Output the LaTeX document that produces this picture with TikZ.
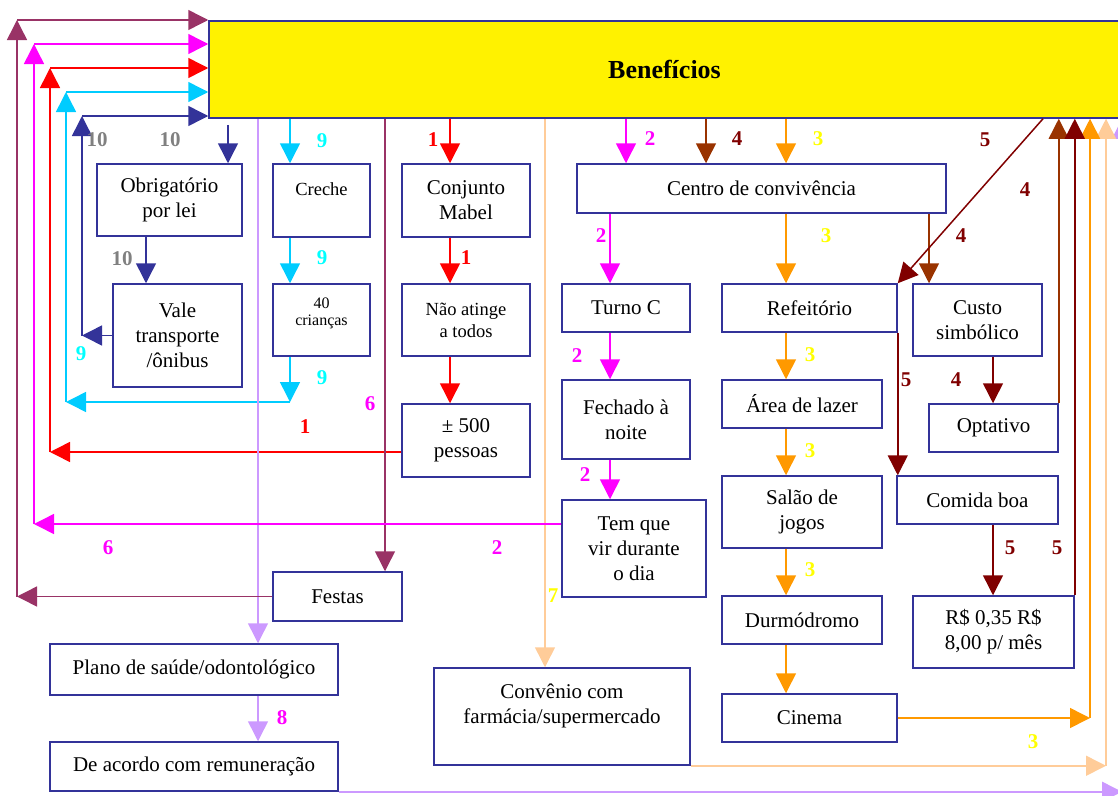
\documentclass[tikz,border=0pt]{standalone}
\usepackage{fontspec}
\setmainfont{Liberation Serif}
\usetikzlibrary{arrows.meta,calc}

\definecolor{boxblue}{HTML}{333399}
\definecolor{ln10}{HTML}{333399}
\definecolor{ln9}{HTML}{00CCFF}
\definecolor{ln1}{HTML}{FF0000}
\definecolor{ln2}{HTML}{FF00FF}
\definecolor{ln6}{HTML}{993366}
\definecolor{ln8}{HTML}{CC99FF}
\definecolor{ln7}{HTML}{FFCC99}
\definecolor{ln3}{HTML}{FF9900}
\definecolor{ln4}{HTML}{993300}
\definecolor{ln5}{HTML}{800000}
\definecolor{numgrey}{HTML}{808080}
\definecolor{numcyan}{HTML}{00FFFF}
\definecolor{numyellow}{HTML}{FFFF00}

\tikzset{
  box/.style={draw=boxblue, line width=1.5pt, fill=white, inner sep=0pt,
    align=center, font=\fontsize{21}{25}\selectfont},
  smalltext/.style={font=\fontsize{18.5}{22}\selectfont},
  tinytext/.style={font=\fontsize{16}{17}\selectfont},
  con/.style={line width=1.5pt, -{Triangle[length=20pt,width=20pt]}},
  num/.style={font=\fontsize{21}{24}\selectfont\bfseries, inner sep=0pt},
}

% box given by its corners: name, x1, y1, x2, y2, text
\newcommand\mybox[7][]{%
  \node[box,#1, minimum width={(#5-#3)*1pt}, minimum height={(#6-#4)*1pt}]
    (#2) at ({(#3+#5)/2},{(#4+#6)/2}) {#7};}

\begin{document}
\begin{tikzpicture}[x=1pt,y=-1pt]
\useasboundingbox (0,0) rectangle (1118,795);

% columns and rows used by the connectors
\coordinate (c10) at (228,0);  \coordinate (c10b) at (146,0);
\coordinate (c8) at (258,0);   \coordinate (c9) at (290,0);
\coordinate (c6) at (385,0);   \coordinate (c1) at (450,0);
\coordinate (c7) at (545,0);   \coordinate (c2) at (610,0);
\coordinate (c2a) at (626,0);  \coordinate (c4a) at (706,0);
\coordinate (c3) at (786,0);   \coordinate (c4) at (929,0);
\coordinate (c45) at (993,0);  \coordinate (d5) at (1043,0);
\coordinate (L6) at (17,0);    \coordinate (L2) at (34,0);
\coordinate (L1) at (50,0);    \coordinate (L9) at (66,0);
\coordinate (L10) at (82,0);
\coordinate (R3) at (1090,0);  \coordinate (R7) at (1106,0);
\coordinate (R8) at (1122,0);
\coordinate (r6) at (0,20);    \coordinate (r2) at (0,44);
\coordinate (r1) at (0,68);    \coordinate (r9) at (0,92);
\coordinate (r10) at (0,116);  \coordinate (r9b) at (0,402);
\coordinate (r1b) at (0,452);  \coordinate (r2b) at (0,524);

% header
\node[draw=boxblue, fill=yellow, line width=1.5pt, inner sep=0pt,
  minimum width=911pt, minimum height=97pt,
  font=\fontsize{26}{30}\selectfont\bfseries] (ben) at (664.5,69.5) {Benefícios};

% boxes
\mybox{obr}{97}{164}{242}{236}{Obrigatório\\por lei}
\mybox{vale}{113}{284}{242}{387}{Vale\\transporte\\/ônibus}
\mybox[smalltext]{creche}{273}{164}{370}{237}{Creche\\\mbox{}}
\mybox[tinytext]{kids}{273}{284}{370}{356}{40\\crianças\\\mbox{}}
\mybox{mabel}{402}{164}{530}{237}{Conjunto\\Mabel}
\mybox[smalltext]{nao}{402}{284}{530}{356}{Não atinge\\a todos}
\mybox{p500}{402}{404}{530}{477}{± 500\\pessoas}
\mybox{centro}{577}{164}{946}{213}{Centro de convivência}
\mybox{turno}{562}{284}{690}{332}{Turno C}
\mybox{refe}{722}{284}{897}{332}{Refeitório}
\mybox{custo}{913}{284}{1042}{356}{Custo\\simbólico}
\mybox{fech}{562}{380}{690}{459}{Fechado à\\noite}
\mybox{tem}{562}{500}{706}{597}{Tem que\\vir durante\\o dia}
\mybox{area}{722}{380}{882}{428}{Área de lazer}
\mybox{salao}{722}{476}{882}{548}{Salão de\\jogos}
\mybox{durm}{722}{596}{882}{644}{Durmódromo}
\mybox{cine}{722}{694}{897}{742}{Cinema}
\mybox{opt}{929}{404}{1058}{452}{Optativo}
\mybox{comida}{897}{476}{1058}{524}{Comida boa}
\mybox{rs}{913}{596}{1074}{668}{R\$ 0,35 R\$\\8,00 p/ mês}
\mybox{festas}{273}{572}{402}{621}{Festas}
\mybox{plano}{50}{644}{338}{695}{Plano de saúde/odontológico}
\mybox{acordo}{50}{742}{338}{791}{De acordo com remuneração}
\mybox{conv}{434}{668}{690}{765}{Convênio com\\farmácia/supermercado\\\mbox{}}

% 10: transporte
\draw[con, ln10] ($(ben.south -| c10)+(0,6)$) -- (obr.north -| c10);
\draw[con, ln10] (obr.south -| c10b) -- (vale.north -| c10b);
\draw[con, ln10] (vale.west) -- (vale.west -| L10);
\draw[con, ln10] (vale.west -| L10) -- (L10 |- r10);
\draw[con, ln10] (L10 |- r10) -- (ben.west |- r10);

% 9: creche
\draw[con, ln9] (ben.south -| c9) -- (creche.north -| c9);
\draw[con, ln9] (creche.south -| c9) -- (kids.north -| c9);
\draw[con, ln9] (kids.south -| c9) -- (c9 |- r9b);
\draw[con, ln9] (c9 |- r9b) -- (L9 |- r9b);
\draw[con, ln9] (L9 |- r9b) -- (L9 |- r9);
\draw[con, ln9] (L9 |- r9) -- (ben.west |- r9);

% 1: conjunto Mabel
\draw[con, ln1] (ben.south -| c1) -- (mabel.north -| c1);
\draw[con, ln1] (mabel.south -| c1) -- (nao.north -| c1);
\draw[con, ln1] (nao.south -| c1) -- (p500.north -| c1);
\draw[con, ln1] (p500.west |- r1b) -- (L1 |- r1b);
\draw[con, ln1] (L1 |- r1b) -- (L1 |- r1);
\draw[con, ln1] (L1 |- r1) -- (ben.west |- r1);

% 8: plano de saude
\draw[con, ln8] (ben.south -| c8) -- (plano.north -| c8);
\draw[con, ln8] (plano.south -| c8) -- (acordo.north -| c8);
\draw[con, ln8] (acordo.south east) -- (R8 |- acordo.south east);
\draw[con, ln8] (R8 |- acordo.south east) -- (ben.south -| R8);

% 6: festas
\draw[con, ln6] (ben.south -| c6) -- (festas.north -| c6);
\draw[con, ln6] (festas.west) -- (festas.west -| L6);
\draw[con, ln6] (festas.west -| L6) -- (L6 |- r6);
\draw[con, ln6] (L6 |- r6) -- (ben.west |- r6);

% 7: convenio
\draw[con, ln7] (ben.south -| c7) -- (conv.north -| c7);
\draw[con, ln7] (conv.south east) -- (R7 |- conv.south east);
\draw[con, ln7] (R7 |- conv.south east) -- (ben.south -| R7);

% 2: centro de convivencia, turno C
\draw[con, ln2] (ben.south -| c2a) -- (centro.north -| c2a);
\draw[con, ln2] (centro.south -| c2) -- (turno.north -| c2);
\draw[con, ln2] (turno.south -| c2) -- (fech.north -| c2);
\draw[con, ln2] (fech.south -| c2) -- (tem.north -| c2);
\draw[con, ln2] (tem.west |- r2b) -- (L2 |- r2b);
\draw[con, ln2] (L2 |- r2b) -- (L2 |- r2);
\draw[con, ln2] (L2 |- r2) -- (ben.west |- r2);

% 3: lazer
\draw[con, ln3] (ben.south -| c3) -- (centro.north -| c3);
\draw[con, ln3] (centro.south -| c3) -- (refe.north -| c3);
\draw[con, ln3] (refe.south -| c3) -- (area.north -| c3);
\draw[con, ln3] (area.south -| c3) -- (salao.north -| c3);
\draw[con, ln3] (salao.south -| c3) -- (durm.north -| c3);
\draw[con, ln3] (durm.south -| c3) -- (cine.north -| c3);
\draw[con, ln3] (cine.east) -- (cine.east -| R3);
\draw[con, ln3] (cine.east -| R3) -- (ben.south -| R3);

% 4: custo simbolico
\draw[con, ln4] (ben.south -| c4a) -- (centro.north -| c4a);
\draw[con, ln4] (centro.south -| c4) -- (custo.north -| c4);
\draw[con, ln5] (custo.south -| c45) -- (opt.north -| c45);
\draw[con, ln4] (opt.north east) -- (opt.north east |- ben.south);

% 5: refeitorio
\draw[con, ln5] (ben.south -| d5) -- (refe.north east);
\draw[con, ln5] (refe.south east) -- (refe.south east |- comida.north);
\draw[con, ln5] (comida.south -| c45) -- (rs.north -| c45);
\draw[con, ln5] (rs.north east) -- (rs.north east |- ben.south);

% route numbers
\node[num, text=numgrey] (n10a) at (97,140) {10};
\node[num, text=numgrey] (n10b) at (170,140) {10};
\node[num, text=numgrey] (n10c) at (122,259) {10};
\node[num, text=numcyan] (n9a) at (322,141) {9};
\node[num, text=numcyan] (n9b) at (322,258) {9};
\node[num, text=numcyan] (n9c) at (322,378) {9};
\node[num, text=numcyan] (n9d) at (81,354) {9};
\node[num, text=ln1] (n1a) at (433,140) {1};
\node[num, text=ln1] (n1b) at (466,258) {1};
\node[num, text=ln1] (n1c) at (305,427) {1};
\node[num, text=ln2] (n2a) at (650,139) {2};
\node[num, text=ln2] (n2b) at (601,236) {2};
\node[num, text=ln2] (n2c) at (577,356) {2};
\node[num, text=ln2] (n2d) at (585,475) {2};
\node[num, text=ln2] (n2e) at (497,548) {2};
\node[num, text=ln2] (n6a) at (108,548) {6};
\node[num, text=ln2] (n6b) at (370,404) {6};
\node[num, text=ln2] (n8) at (282,718) {8};
\node[num, text=ln5] (n4a) at (737,139) {4};
\node[num, text=ln5] (n4b) at (961,236) {4};
\node[num, text=ln5] (n4c) at (956,380) {4};
\node[num, text=ln5] (n4d) at (1025,190) {4};
\node[num, text=ln5] (n5a) at (985,140) {5};
\node[num, text=ln5] (n5b) at (906,380) {5};
\node[num, text=ln5] (n5c) at (1010,548) {5};
\node[num, text=ln5] (n5d) at (1057,548) {5};
\node[num, text=numyellow] (n3a) at (818,139) {3};
\node[num, text=numyellow] (n3b) at (826,236) {3};
\node[num, text=numyellow] (n3c) at (810,355) {3};
\node[num, text=numyellow] (n3d) at (810,451) {3};
\node[num, text=numyellow] (n3e) at (810,570) {3};
\node[num, text=numyellow] (n3f) at (1033,742) {3};
\node[num, text=numyellow] (n7) at (553,596) {7};
\end{tikzpicture}
\end{document}
